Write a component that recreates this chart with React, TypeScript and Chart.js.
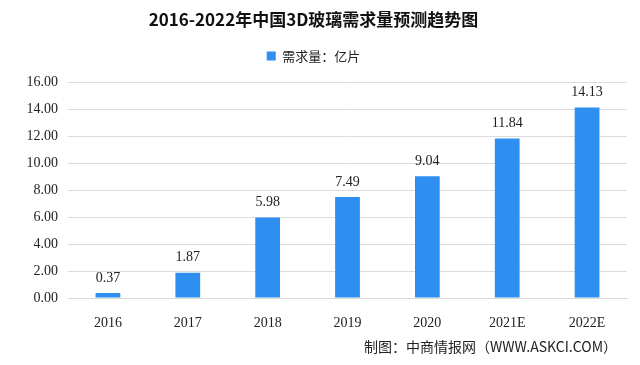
import React, { useEffect, useRef } from "react";
import { Chart, registerables } from "chart.js";

Chart.register(...registerables);

const categories = ["2016", "2017", "2018", "2019", "2020", "2021E", "2022E"];
const demand = [0.37, 1.87, 5.98, 7.49, 9.04, 11.84, 14.13];
const seriesName = "需求量：亿片";
const titleText = "2016-2022年中国3D玻璃需求量预测趋势图";
const sourceText = "制图：中商情报网（WWW.ASKCI.COM）";

const NUM_FONT = '"Liberation Serif", "Noto Sans CJK SC", serif';
const CJK_FONT = '"Noto Sans CJK SC", "Liberation Serif", sans-serif';

const overlayPlugin = {
  id: "overlay",
  afterDatasetsDraw(chart: any) {
    const ctx = chart.ctx;
    const meta = chart.getDatasetMeta(0);
    ctx.save();
    ctx.fillStyle = "#222";
    ctx.font = `14px ${NUM_FONT}`;
    ctx.textAlign = "center";
    ctx.textBaseline = "bottom";
    meta.data.forEach((bar: any, i: number) => {
      ctx.fillText(demand[i].toFixed(2), bar.x, bar.y - 8);
    });
    ctx.font = `14px ${CJK_FONT}`;
    ctx.textAlign = "right";
    ctx.textBaseline = "middle";
    ctx.fillStyle = "#222";
    ctx.fillText(sourceText, 617, 347);
    ctx.restore();
  },
};

export default function App() {
  const ref = useRef<HTMLCanvasElement | null>(null);
  useEffect(() => {
    if (!ref.current) return;
    const chart = new Chart(ref.current, {
      type: "bar",
      data: {
        labels: categories,
        datasets: [
          {
            label: seriesName,
            data: demand,
            backgroundColor: "#2e8ff0",
            borderWidth: 0,
            barPercentage: 0.62,
            categoryPercentage: 0.5,
          },
        ],
      },
      options: {
        animation: false,
        responsive: false,
        maintainAspectRatio: false,
        layout: { padding: { left: 0, right: 13, top: 0, bottom: 0 } },
        plugins: {
          title: {
            display: true,
            text: titleText,
            color: "#111",
            font: { family: CJK_FONT, size: 17, weight: "bold" },
            padding: { top: 9, bottom: 5 },
          },
          subtitle: {
            display: true,
            text: "",
            weight: 500,
            font: { size: 10, lineHeight: 1 },
            padding: 0,
          },
          legend: {
            display: true,
            labels: {
              color: "#222",
              font: { family: CJK_FONT, size: 13 },
              boxWidth: 9,
              boxHeight: 9,
              padding: 15,
            },
          },
          tooltip: { enabled: false },
        },
        scales: {
          x: {
            grid: { display: false },
            border: { display: true, color: "#d9d9d9" },
            ticks: {
              color: "#222",
              font: { family: NUM_FONT, size: 14 },
              padding: 9,
              maxRotation: 0,
            },
            afterFit: (scale: any) => {
              scale.height = 67;
            },
          },
          y: {
            min: 0,
            max: 16,
            ticks: {
              stepSize: 2,
              color: "#222",
              font: { family: NUM_FONT, size: 14 },
              padding: 10,
              callback: (v: any) => Number(v).toFixed(2),
            },
            grid: { color: "#dcdcdc", drawTicks: false },
            border: { display: false },
            afterFit: (scale: any) => {
              scale.width = 68;
            },
          },
        },
      },
      plugins: [overlayPlugin],
    });
    return () => chart.destroy();
  }, []);
  return (
    <div
      style={{
        position: "fixed",
        left: 0,
        top: 0,
        width: 640,
        height: 365,
        background: "#fff",
      }}
    >
      <canvas ref={ref} width={640} height={365} style={{ display: "block" }} />
    </div>
  );
}
